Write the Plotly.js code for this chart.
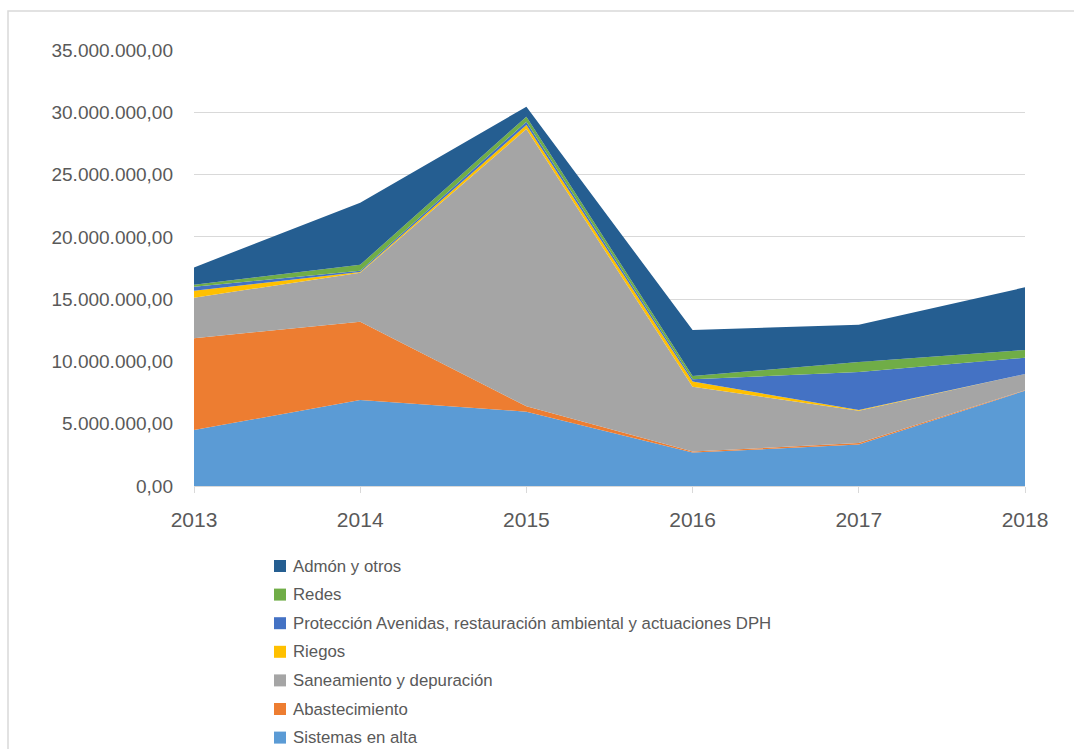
<!DOCTYPE html>
<html>
<head>
<meta charset="utf-8">
<script src="https://cdn.plot.ly/plotly-3.0.1.min.js"></script>
<style>
html,body{margin:0;padding:0;background:#fff;}
#chart{width:1074px;height:749px;}
</style>
</head>
<body>
<div id="chart"></div>
<script>
const years = [2013, 2014, 2015, 2016, 2017, 2018];
const seriesNames = [
  "Sistemas en alta",
  "Abastecimiento",
  "Saneamiento y depuración",
  "Riegos",
  "Protección Avenidas, restauración ambiental y actuaciones DPH",
  "Redes",
  "Admón y otros"
];
const sistemasEnAlta   = [4500000, 6900000, 5970000, 2680000, 3330000, 7650000];
const abastecimiento   = [7360000, 6290000, 430000, 80000, 120000, 30000];
const saneamiento      = [3260000, 3930000, 22260000, 5210000, 2600000, 1310000];
const riegos           = [560000, 50000, 320000, 410000, 50000, 0];
const proteccion       = [320000, 100000, 270000, 190000, 3050000, 1310000];
const redes            = [160000, 490000, 400000, 260000, 800000, 620000];
const admon            = [1390000, 4980000, 800000, 3690000, 3000000, 5030000];
const seriesValues = [sistemasEnAlta, abastecimiento, saneamiento, riegos, proteccion, redes, admon];
const colors = ["#5B9BD5", "#ED7D31", "#A5A5A5", "#FFC000", "#4472C4", "#70AD47", "#255E91"];
const yTicks = [0, 5000000, 10000000, 15000000, 20000000, 25000000, 30000000, 35000000];

const traces = seriesValues.map((vals, i) => ({
  type: 'scatter', mode: 'none', x: years, y: vals,
  stackgroup: 'one', fillcolor: colors[i], line: {width: 0},
  name: seriesNames[i], showlegend: false, hoverinfo: 'x+y+name'
}));

const L = 194, R = 1025, T = 50, B = 486;
const pw = R - L, ph = B - T;
const px = v => (v - L) / pw;
const py = v => (B - v) / ph;

// manual legend (top to bottom: Admón ... Sistemas)
const shapes = [{
  type: 'rect', xref: 'paper', yref: 'paper',
  x0: px(8), x1: px(1090), y0: py(800), y1: py(11),
  line: {color: '#d9d9d9', width: 1.5}, fillcolor: 'rgba(0,0,0,0)', layer: 'below'
}];
const annotations = [];
const rowY0 = 566, rowGap = 28.6;
for (let k = 0; k < seriesNames.length; k++) {
  const i = seriesNames.length - 1 - k;
  const cy = rowY0 + k * rowGap;
  shapes.push({
    type: 'rect', xref: 'paper', yref: 'paper',
    x0: px(274), x1: px(286), y0: py(cy + 6), y1: py(cy - 6),
    line: {width: 0}, fillcolor: colors[i]
  });
  annotations.push({
    xref: 'paper', yref: 'paper', x: px(291), y: py(cy),
    xanchor: 'left', yanchor: 'middle', showarrow: false,
    text: seriesNames[i], font: {size: 16.8, color: '#595959'}
  });
}

const layout = {
  width: 1074, height: 749,
  margin: {l: L, r: 1074 - R, t: T, b: 749 - B},
  paper_bgcolor: '#ffffff', plot_bgcolor: '#ffffff',
  separators: ',.',
  font: {family: '"Liberation Sans", Arial, sans-serif', color: '#595959'},
  showlegend: false,
  xaxis: {
    type: 'linear', range: [2013, 2018], tickvals: years, ticktext: years.map(String),
    showgrid: false, zeroline: false, showline: true, linecolor: '#d9d9d9', linewidth: 1,
    ticks: 'outside', ticklen: 6, tickcolor: '#d9d9d9', tickwidth: 1,
    tickfont: {size: 21, color: '#595959'}, ticklabelstandoff: 9, fixedrange: true
  },
  yaxis: {
    range: [0, 35000000], tickvals: yTicks, tickformat: ',.2f',
    showgrid: true, gridcolor: '#d9d9d9', gridwidth: 1, zeroline: false, showline: false,
    ticks: '', tickfont: {size: 19, color: '#595959'}, ticklabelstandoff: 20, fixedrange: true
  },
  shapes: shapes,
  annotations: annotations
};
Plotly.newPlot('chart', traces, layout, {displayModeBar: false, staticPlot: true});
</script>
</body>
</html>
